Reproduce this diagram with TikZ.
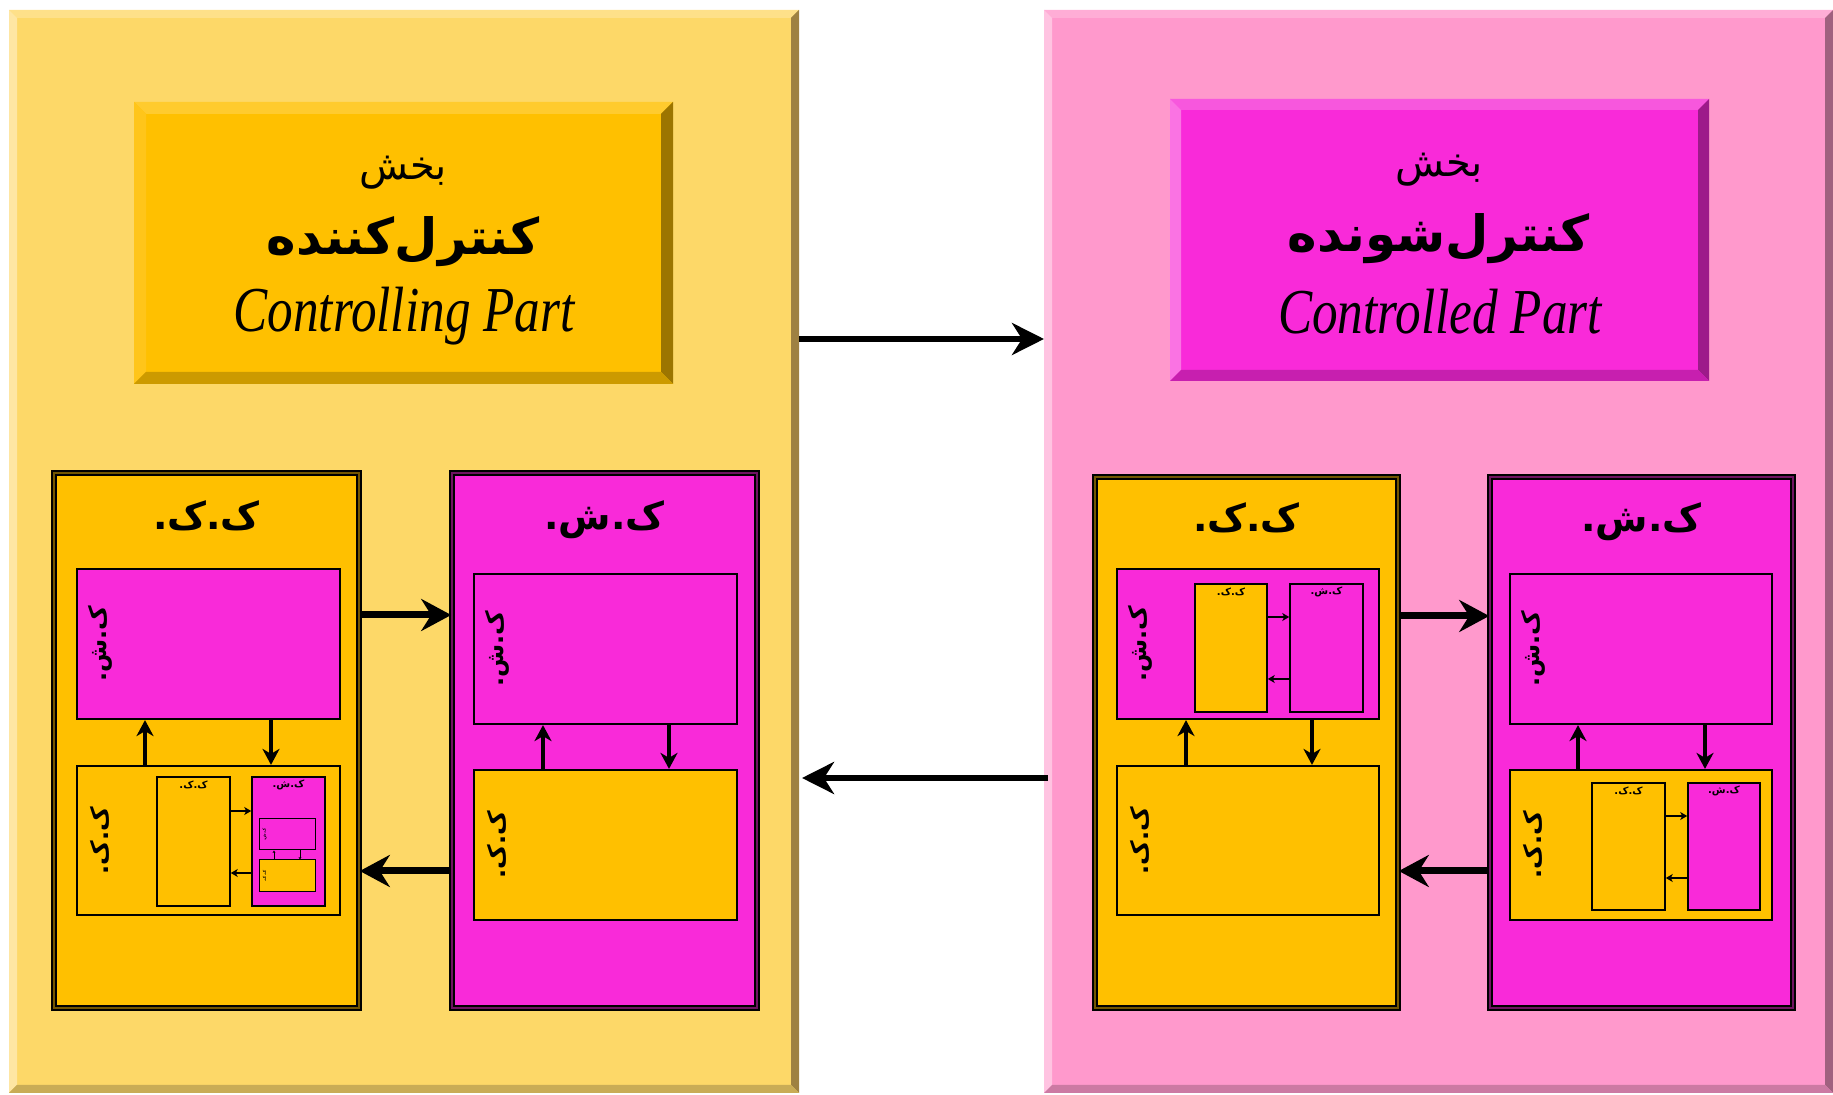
\documentclass[tikz,border=0pt]{standalone}
\usepackage{fontspec}
\usepackage{graphicx}
\setmainfont{Liberation Serif}
\newfontfamily\farsi[Script=Arabic]{DejaVu Sans}
\TeXXeTstate=1
\usetikzlibrary{arrows.meta,fit,positioning}

\definecolor{kkorange}{HTML}{FFC000}
\definecolor{ksmag}{HTML}{F92AD9}
\definecolor{ctlfill}{HTML}{FDD868}
\definecolor{ctltop}{HTML}{FEE089}
\definecolor{ctlleft}{HTML}{FEE6A3}
\definecolor{ctlright}{HTML}{9E8142}
\definecolor{ctlbot}{HTML}{C9AC56}
\definecolor{cldfill}{HTML}{FF99CC}
\definecolor{cldtop}{HTML}{FFADD6}
\definecolor{cldleft}{HTML}{FFC3E1}
\definecolor{cldright}{HTML}{A0617F}
\definecolor{cldbot}{HTML}{CC7AA3}
\definecolor{ottop}{HTML}{FFCB2E}
\definecolor{otleft}{HTML}{FFC51A}
\definecolor{otright}{HTML}{9C7500}
\definecolor{otbot}{HTML}{CC9A00}
\definecolor{mttop}{HTML}{F757DD}
\definecolor{mtleft}{HTML}{FA73E3}
\definecolor{mtright}{HTML}{9D1A8A}
\definecolor{mtbot}{HTML}{C71FAF}

% bevelled edge round a node: name, width, top, left, right, bottom
\newcommand{\bevel}[6]{%
  \fill[#3] (#1.north west) -- (#1.north east) -- ([shift={(-#2,#2)}]#1.north east) -- ([shift={(#2,#2)}]#1.north west) -- cycle;
  \fill[#4] (#1.north west) -- ([shift={(#2,#2)}]#1.north west) -- ([shift={(#2,-#2)}]#1.south west) -- (#1.south west) -- cycle;
  \fill[#5] (#1.north east) -- (#1.south east) -- ([shift={(-#2,-#2)}]#1.south east) -- ([shift={(-#2,#2)}]#1.north east) -- cycle;
  \fill[#6] (#1.south west) -- (#1.south east) -- ([shift={(-#2,-#2)}]#1.south east) -- ([shift={(#2,-#2)}]#1.south west) -- cycle;
}

\tikzset{
  panel/.style={inner sep=0pt, outer sep=0pt, draw=none},
  kkone/.style={inner sep=0pt, fill=kkorange, draw=black, line width=0.8pt, double=black!55!kkorange, double distance=1.2pt},
  ksone/.style={inner sep=0pt, fill=ksmag, draw=black, line width=0.8pt, double=black!55!ksmag, double distance=1.2pt},
  kk/.style={inner sep=0pt, fill=kkorange, draw=black, line width=1.1pt},
  ks/.style={inner sep=0pt, fill=ksmag, draw=black, line width=1.1pt},
  kksmall/.style={kk, line width=0.8pt},
  kssmall/.style={ks, line width=0.8pt},
  kktiny/.style={kk, line width=0.5pt},
  kstiny/.style={ks, line width=0.5pt},
  ttlone/.style={font=\farsi\bfseries\fontsize{19}{23}\selectfont, inner sep=0pt},
  sidelbl/.style={font=\farsi\bfseries\fontsize{12}{14}\selectfont, rotate=90, inner sep=0pt},
  ttlsmall/.style={font=\farsi\bfseries\fontsize{5}{6}\selectfont, inner sep=0pt},
  sidetiny/.style={font=\farsi\bfseries\fontsize{2}{2}\selectfont, rotate=90, inner sep=0pt},
  arrpanel/.style={line width=3pt, -{Stealth[length=16pt, width=16pt, inset=5pt]}},
  arrone/.style={line width=3.5pt, -{Stealth[length=15pt, width=16pt, inset=5pt]}},
  arrtwo/.style={line width=1.6pt, -{Stealth[length=8pt, width=8.5pt, inset=2.5pt]}},
  arrthree/.style={line width=0.6pt, -{Stealth[length=3.5pt, width=4pt, inset=1pt]}},
  arrfour/.style={line width=0.3pt, -{Stealth[length=1.2pt, width=1.4pt, inset=0.3pt]}}
}

\begin{document}
\begin{tikzpicture}[x=0.5pt,y=-0.5pt]
\useasboundingbox (0,0) rectangle (1833,1095);

% the two parts
\node[panel, fill=ctlfill, fit={(9,10) (799,1093)}] (ctl) {};
\bevel{ctl}{8}{ctltop}{ctlleft}{ctlright}{ctlbot}
\node[panel, fill=cldfill, fit={(1044,10) (1833,1093)}] (cld) {};
\bevel{cld}{8}{cldtop}{cldleft}{cldright}{cldbot}

% title boxes
\node[panel, fill=kkorange, fit={(134,102) (673,384)}] (ctlt) {};
\bevel{ctlt}{12}{ottop}{otleft}{otright}{otbot}
\node[font=\farsi\fontsize{20}{24}\selectfont] (ctlt1) at (403,173) {\beginR بخش\endR};
\node[font=\farsi\bfseries\fontsize{25}{30}\selectfont] (ctlt2) at (403,242) {\beginR کنترل^^^^200cکننده\endR};
\node[font=\itshape\fontsize{32}{36}\selectfont] (ctlt3) at (404,316) {\scalebox{0.8}[1]{Controlling Part}};

\node[panel, fill=ksmag, fit={(1170,99) (1709,381)}] (cldt) {};
\bevel{cldt}{11}{mttop}{mtleft}{mtright}{mtbot}
\node[font=\farsi\fontsize{20}{24}\selectfont] (cldt1) at (1439,170) {\beginR بخش\endR};
\node[font=\farsi\bfseries\fontsize{25}{30}\selectfont] (cldt2) at (1439,239) {\beginR کنترل^^^^200cشونده\endR};
\node[font=\itshape\fontsize{32}{36}\selectfont] (cldt3) at (1440,312) {\scalebox{0.8}[1]{Controlled Part}};

% controlling part: k.k.
\node[kkone, fit={(54,473) (359,1008)}] (lkk) {};
\node[ttlone] (lkkt) at ([yshift=-22pt]lkk.north) {\beginR ک.ک.\endR};
\node[ks, fit={(77,569) (340,719)}] (lkk1) {};
\node[sidelbl] (lkk1l) at ([xshift=12pt]lkk1.west) {\beginR ک.ش.\endR};
\node[kk, fit={(77,766) (340,915)}] (lkk2) {};
\node[sidelbl] (lkk2l) at ([xshift=12pt]lkk2.west) {\beginR ک.ک.\endR};
\node[kksmall, fit={(157,777) (230,906)}] (lkk2a) {};
\node[ttlsmall] (lkk2at) at ([yshift=-4.5pt]lkk2a.north) {\beginR ک.ک.\endR};
\node[kssmall, fit={(252,777) (325,906)}] (lkk2b) {};
\node[ttlsmall] (lkk2bt) at ([yshift=-4.5pt]lkk2b.north) {\beginR ک.ش.\endR};
\node[kstiny, fit={(259,819) (315,850)}] (lkk2b1) {};
\node[sidetiny] (lkk2b1l) at ([xshift=3pt]lkk2b1.west) {\beginR ک.ش.\endR};
\node[kktiny, fit={(259,860) (315,892)}] (lkk2b2) {};
\node[sidetiny] (lkk2b2l) at ([xshift=3pt]lkk2b2.west) {\beginR ک.ک.\endR};
\draw[arrfour] (lkk2b2.north -| 274,0) -- (lkk2b1.south -| 274,0);
\draw[arrfour] (lkk2b1.south -| 300,0) -- (lkk2b2.north -| 300,0);
\draw[arrthree] (lkk2a.east |- 0,811) -- (lkk2b.west |- 0,811);
\draw[arrthree] (lkk2b.west |- 0,873) -- (lkk2a.east |- 0,873);
\draw[arrtwo] (lkk2.north -| 145,0) -- (lkk1.south -| 145,0);
\draw[arrtwo] (lkk1.south -| 271,0) -- (lkk2.north -| 271,0);

% controlling part: k.sh.
\node[ksone, fit={(452,473) (757,1008)}] (lks) {};
\node[ttlone] (lkst) at ([yshift=-24pt]lks.north) {\beginR ک.ش.\endR};
\node[ks, fit={(474,574) (737,724)}] (lks1) {};
\node[sidelbl] (lks1l) at ([xshift=12pt]lks1.west) {\beginR ک.ش.\endR};
\node[kk, fit={(474,770) (737,920)}] (lks2) {};
\node[sidelbl] (lks2l) at ([xshift=12pt]lks2.west) {\beginR ک.ک.\endR};
\draw[arrtwo] (lks2.north -| 543,0) -- (lks1.south -| 543,0);
\draw[arrtwo] (lks1.south -| 669,0) -- (lks2.north -| 669,0);

\draw[arrone] (lkk.east |- 0,615) -- (lks.west |- 0,615);
\draw[arrone] (lks.west |- 0,871) -- (lkk.east |- 0,871);

% controlled part: k.k.
\node[kkone, fit={(1095,477) (1398,1008)}] (rkk) {};
\node[ttlone] (rkkt) at ([yshift=-21pt]rkk.north) {\beginR ک.ک.\endR};
\node[ks, fit={(1117,569) (1379,719)}] (rkk1) {};
\node[sidelbl] (rkk1l) at ([xshift=12pt]rkk1.west) {\beginR ک.ش.\endR};
\node[kksmall, fit={(1195,584) (1267,712)}] (rkk1a) {};
\node[ttlsmall] (rkk1at) at ([yshift=-4.5pt]rkk1a.north) {\beginR ک.ک.\endR};
\node[kssmall, fit={(1290,584) (1363,712)}] (rkk1b) {};
\node[ttlsmall] (rkk1bt) at ([yshift=-4.5pt]rkk1b.north) {\beginR ک.ش.\endR};
\draw[arrthree] (rkk1a.east |- 0,617) -- (rkk1b.west |- 0,617);
\draw[arrthree] (rkk1b.west |- 0,679) -- (rkk1a.east |- 0,679);
\node[kk, fit={(1117,766) (1379,915)}] (rkk2) {};
\node[sidelbl] (rkk2l) at ([xshift=12pt]rkk2.west) {\beginR ک.ک.\endR};
\draw[arrtwo] (rkk2.north -| 1186,0) -- (rkk1.south -| 1186,0);
\draw[arrtwo] (rkk1.south -| 1312,0) -- (rkk2.north -| 1312,0);

% controlled part: k.sh.
\node[ksone, fit={(1490,477) (1793,1008)}] (rks) {};
\node[ttlone] (rkst) at ([yshift=-23pt]rks.north) {\beginR ک.ش.\endR};
\node[ks, fit={(1510,574) (1772,724)}] (rks1) {};
\node[sidelbl] (rks1l) at ([xshift=12pt]rks1.west) {\beginR ک.ش.\endR};
\node[kk, fit={(1510,770) (1772,920)}] (rks2) {};
\node[sidelbl] (rks2l) at ([xshift=12pt]rks2.west) {\beginR ک.ک.\endR};
\node[kksmall, fit={(1592,783) (1665,910)}] (rks2a) {};
\node[ttlsmall] (rks2at) at ([yshift=-4.5pt]rks2a.north) {\beginR ک.ک.\endR};
\node[kssmall, fit={(1688,783) (1760,910)}] (rks2b) {};
\node[ttlsmall] (rks2bt) at ([yshift=-4.5pt]rks2b.north) {\beginR ک.ش.\endR};
\draw[arrthree] (rks2a.east |- 0,816) -- (rks2b.west |- 0,816);
\draw[arrthree] (rks2b.west |- 0,878) -- (rks2a.east |- 0,878);
\draw[arrtwo] (rks2.north -| 1578,0) -- (rks1.south -| 1578,0);
\draw[arrtwo] (rks1.south -| 1705,0) -- (rks2.north -| 1705,0);

\draw[arrone] (rkk.east |- 0,616) -- (rks.west |- 0,616);
\draw[arrone] (rks.west |- 0,871) -- (rkk.east |- 0,871);

% between the parts
\draw[arrpanel] (ctl.east |- 0,339) -- (cld.west |- 0,339);
\draw[arrpanel] ([xshift=2pt]cld.west |- 0,778) -- ([xshift=1.5pt]ctl.east |- 0,778);
\end{tikzpicture}
\end{document}
